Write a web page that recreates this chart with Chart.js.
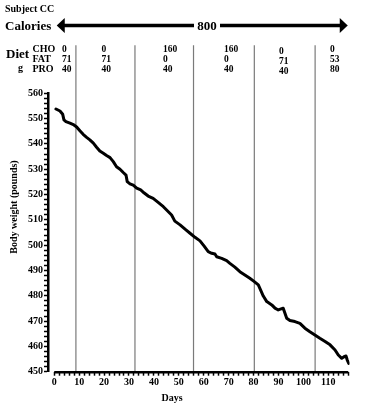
<!DOCTYPE html>
<html><head><meta charset="utf-8">
<script src="https://cdn.jsdelivr.net/npm/chart.js@4.4.0/dist/chart.umd.min.js"></script>
<style>html,body{margin:0;padding:0;background:#fff;}#wrap{width:380px;height:417px;position:relative;}</style>
</head><body><div id="wrap"><canvas id="c" width="380" height="417"></canvas></div>
<script>
// ---- data ----
const days = [0.7,2.3,3.4,3.9,4.7,6.3,7.9,9.0,10.3,11.6,13.0,14.3,15.7,17.0,18.3,19.7,21.0,22.4,23.7,25.0,26.4,27.7,28.8,29.3,30.4,31.7,33.1,34.7,36.0,37.7,39.7,41.7,43.8,45.8,47.1,48.4,50.5,52.5,54.5,56.5,58.5,60.1,61.8,63.2,64.5,65.2,67.2,69.2,70.5,72.5,74.5,76.5,78.5,80.3,81.9,82.8,83.9,85.3,87.3,88.6,89.9,91.9,92.6,93.3,94.6,96.6,98.6,100.6,102.6,104.6,106.6,108.7,110.7,112.7,114.0,115.4,116.3,117.1,117.6,118.2];
const weights = [553.8,553.0,551.7,549.5,548.8,548.2,547.5,546.7,545.2,543.8,542.6,541.6,540.3,538.7,537.2,536.3,535.4,534.6,533.0,531.0,530.0,528.7,527.7,525.1,524.2,523.7,522.5,521.8,520.7,519.4,518.5,516.9,515.2,513.2,511.9,509.5,508.0,506.3,504.7,503.1,501.7,499.7,497.4,496.8,496.5,495.4,494.8,493.9,492.8,491.3,489.5,488.2,486.9,485.6,484.3,482.3,479.9,477.7,476.4,475.1,474.4,475.1,473.1,471.1,470.2,469.8,469.1,467.2,465.8,464.5,463.2,461.9,460.6,458.6,456.6,455.3,455.9,456.2,454.6,453.3];
const dietBoundaries = [8.7, 32.4, 55.9, 80.3, 104.7];
const dietCHO = ['0','0','160','160','0','0'];
const dietFAT = ['71','71','0','0','71','53'];
const dietPRO = ['40','40','40','40','40','80'];
const calories = '800';
const xTickLabels = [0,10,20,30,40,50,60,70,80,90,100,110];
const yTickLabels = [450,460,470,480,490,500,510,520,530,540,550,560];

const SERIF = "'Liberation Serif','Times New Roman',serif";
const curve = days.map((d,i)=>({x:d,y:weights[i]}));
const sepData = [];
dietBoundaries.forEach(b=>{ sepData.push({x:b,y:450}); sepData.push({x:b,y:579}); sepData.push({x:b,y:null}); });

const header = {
  id:'header',
  afterDraw(chart){
    const ctx = chart.ctx, xs = chart.scales.x, ys = chart.scales.y;
    ctx.save();
    ctx.fillStyle = '#000'; ctx.strokeStyle = '#000';
    // x axis line (detached from y axis)
    const yb = ys.getPixelForValue(450);
    ctx.lineWidth = 2.5;
    ctx.beginPath(); ctx.moveTo(xs.getPixelForValue(0), yb+0.5); ctx.lineTo(xs.getPixelForValue(118), yb+0.5); ctx.stroke();
    ctx.textBaseline = 'middle';
    ctx.textAlign = 'left';
    ctx.font = 'bold 10px ' + SERIF;
    ctx.fillText('Subject CC', 5, 9);
    ctx.font = 'bold 13px ' + SERIF;
    ctx.fillText('Calories', 5, 27);
    // arrow
    const tipL = xs.getPixelForValue(1), tipR = xs.getPixelForValue(117.8), ay = 25.5;
    ctx.textAlign = 'center';
    ctx.fillText(calories, 207, 27);
    ctx.lineWidth = 3.5;
    ctx.beginPath(); ctx.moveTo(tipL+6, ay); ctx.lineTo(194, ay); ctx.moveTo(220, ay); ctx.lineTo(tipR-6, ay); ctx.stroke();
    ctx.beginPath(); ctx.moveTo(tipL, ay); ctx.lineTo(tipL+8, ay-7.5); ctx.lineTo(tipL+8, ay+7.5); ctx.closePath(); ctx.fill();
    ctx.beginPath(); ctx.moveTo(tipR, ay); ctx.lineTo(tipR-8, ay-7.5); ctx.lineTo(tipR-8, ay+7.5); ctx.closePath(); ctx.fill();
    // diet table
    ctx.textAlign = 'left';
    ctx.font = 'bold 13px ' + SERIF;
    ctx.fillText('Diet', 6, 55);
    ctx.font = 'bold 10px ' + SERIF;
    ctx.fillText('g', 18, 68);
    ctx.fillText('CHO', 32.5, 49.5);
    ctx.fillText('FAT', 32.5, 59.5);
    ctx.fillText('PRO', 32.5, 69.5);
    const colX = [62, 101.5, 163, 224, 279, 330];
    const colDy = [0, 0, 0, 0, 2, 0];
    ctx.font = 'bold 9.5px ' + SERIF;
    colX.forEach((cx,i)=>{
      ctx.fillText(dietCHO[i], cx, 49.5+colDy[i]);
      ctx.fillText(dietFAT[i], cx, 59.5+colDy[i]);
      ctx.fillText(dietPRO[i], cx, 69.5+colDy[i]);
    });
    // axis titles
    ctx.font = 'bold 10px ' + SERIF;
    ctx.textAlign = 'center';
    ctx.fillText('Days', 172, 398);
    ctx.translate(14.5, 207); ctx.rotate(-Math.PI/2);
    ctx.fillText('Body weight (pounds)', 0, 0);
    ctx.restore();
  }
};

new Chart(document.getElementById('c'), {
  type: 'line',
  data: { datasets: [
    { data: curve, borderColor:'#000', borderWidth:3, pointRadius:0, tension:0, borderJoinStyle:'round', borderCapStyle:'round' },
    { data: sepData, borderColor:'#7a7a7a', borderWidth:1.2, pointRadius:0, tension:0, clip:false, spanGaps:false }
  ]},
  options: {
    responsive:false, animation:false, devicePixelRatio:1,
    layout:{ padding:{ top:93.3, right:30.5, bottom:25.3, left:0 } },
    plugins:{ legend:{display:false}, tooltip:{enabled:false} },
    scales:{
      x:{ type:'linear', min:-2.5, max:118.5,
        border:{ display:false },
        grid:{ drawOnChartArea:false, drawTicks:true, tickLength:4, tickWidth:1.5, tickColor:'#000' },
        ticks:{ autoSkip:false, maxRotation:0, padding:1, color:'#000', font:{ family:SERIF, size:10, weight:'bold' },
          callback:v=> xTickLabels.includes(v) ? String(v) : '' },
        afterBuildTicks:s=>{ const t=[]; for(let v=0; v<=118; v+=2) t.push({value:v}); s.ticks=t; },
        afterFit:s=>{ s.height = 20; }
      },
      y:{ type:'linear', min:450, max:560,
        border:{ display:true, width:2.5, color:'#000' },
        grid:{ drawOnChartArea:false, drawTicks:true, tickLength:4, tickWidth:1.5, tickColor:'#000' },
        ticks:{ autoSkip:false, padding:1, color:'#000', font:{ family:SERIF, size:10, weight:'bold' },
          callback:v=> yTickLabels.includes(v) ? String(v) : '' },
        afterBuildTicks:s=>{ const t=[]; for(let v=450; v<=560; v+=2) t.push({value:v}); s.ticks=t; },
        afterFit:s=>{ s.width = 48; }
      }
    }
  },
  plugins:[header]
});
</script></body></html>
